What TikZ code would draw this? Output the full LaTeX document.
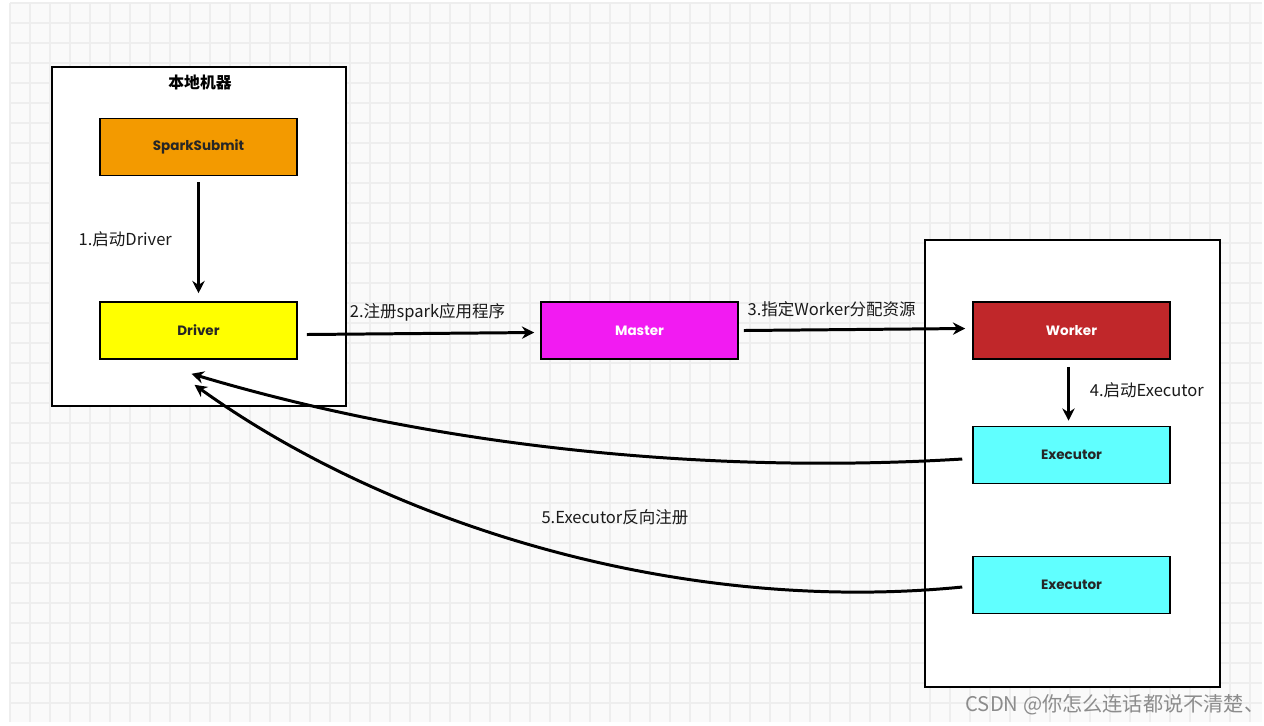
\documentclass[tikz,border=0pt]{standalone}
\usepackage{fontspec}
\setmainfont{Noto Sans CJK SC}
\newfontfamily\boxfont{Poppins}
\usetikzlibrary{arrows.meta}
\definecolor{gridbg}{HTML}{FAFAFA}
\definecolor{gridln}{HTML}{EEEEEE}
\definecolor{submitorange}{HTML}{F39A00}
\definecolor{driveryellow}{HTML}{FFFF00}
\definecolor{mastermagenta}{HTML}{F21BF2}
\definecolor{workerred}{HTML}{C0272A}
\definecolor{execcyan}{HTML}{60FFFF}
\definecolor{labelink}{HTML}{1A1A1A}
\tikzset{
  unit/.style={draw=black, line width=0.9pt, minimum width=3.94cm, minimum height=1.14cm,
    font=\boxfont\bfseries\fontsize{7.7}{9}\selectfont, text=black!85},
  machine/.style={draw=black, line width=1.1pt, fill=white},
  flow/.style={-{Stealth[length=7pt,width=7pt]}, line width=1.7pt},
  lbl/.style={font=\fontsize{9.4}{11}\selectfont, text=labelink}
}
\begin{document}
\begin{tikzpicture}[x=0.02cm, y=-0.02cm]
\useasboundingbox (0,0) rectangle (1264,725);
% background grid
\fill[gridbg] (10,3) rectangle (1262,722);
\foreach \gx in {10,30,...,1250} \draw[gridln, line width=0.6pt] (\gx,3) -- (\gx,722);
\foreach \gy in {3,23,...,703} \draw[gridln, line width=0.6pt] (10,\gy) -- (1262,\gy);

% machines
\node[machine, minimum width=5.88cm, minimum height=6.78cm] (local) at (199,236.5) {};
\node[font=\bfseries\fontsize{9}{11}\selectfont] (localtitle) at (200,82) {本地机器};
\node[machine, minimum width=5.9cm, minimum height=8.94cm] (cluster) at (1072.5,463.5) {};

% processes
\node[unit, fill=submitorange] (submit) at (198.5,147) {SparkSubmit};
\node[unit, fill=driveryellow] (driver) at (198.5,330.5) {Driver};
\node[unit, fill=mastermagenta, text=white] (master) at (639.5,330.5) {Master};
\node[unit, fill=workerred, text=white] (worker) at (1071.5,330.5) {Worker};
\node[unit, fill=execcyan] (exec1) at (1071.5,455) {Executor};
\node[unit, fill=execcyan] (exec2) at (1071.5,585) {Executor};

% steps
\draw[flow] ([shift={(0,6)}]submit.south) to node[lbl, left, xshift=-11pt, yshift=-1pt] (step1) {1.启动Driver} ([shift={(0,-8)}]driver.north);
\draw[flow] ([shift={(9,4)}]driver.east) to node[lbl, above, xshift=4pt, yshift=3pt] (step2) {2.注册spark应用程序} ([shift={(-6,2)}]master.west);
\draw[flow] ([shift={(5,0)}]master.east) to node[lbl, above, xshift=-13pt, yshift=3pt] (step3) {3.指定Worker分配资源} ([shift={(-7,-2)}]worker.west);
\draw[flow] ([shift={(-3,7)}]worker.south) to node[lbl, right, xshift=8pt, yshift=2pt] (step4) {4.启动Executor} ([shift={(-3,-5)}]exec1.north);
\draw[flow] ([shift={(-10,4)}]exec1.west) .. controls (700,475) and (430,445) .. ([shift={(-7,14)}]driver.south);
\draw[flow] ([shift={(-10,2)}]exec2.west) .. controls (680,615) and (390,525) .. ([shift={(-4,25)}]driver.south);
\node[lbl] (step5) at (615,517) {5.Executor反向注册};

% watermark
\node[font=\fontsize{11.5}{13}\selectfont, text=black!45] (mark) at (1115,705) {CSDN @你怎么连话都说不清楚、};
\end{tikzpicture}
\end{document}
